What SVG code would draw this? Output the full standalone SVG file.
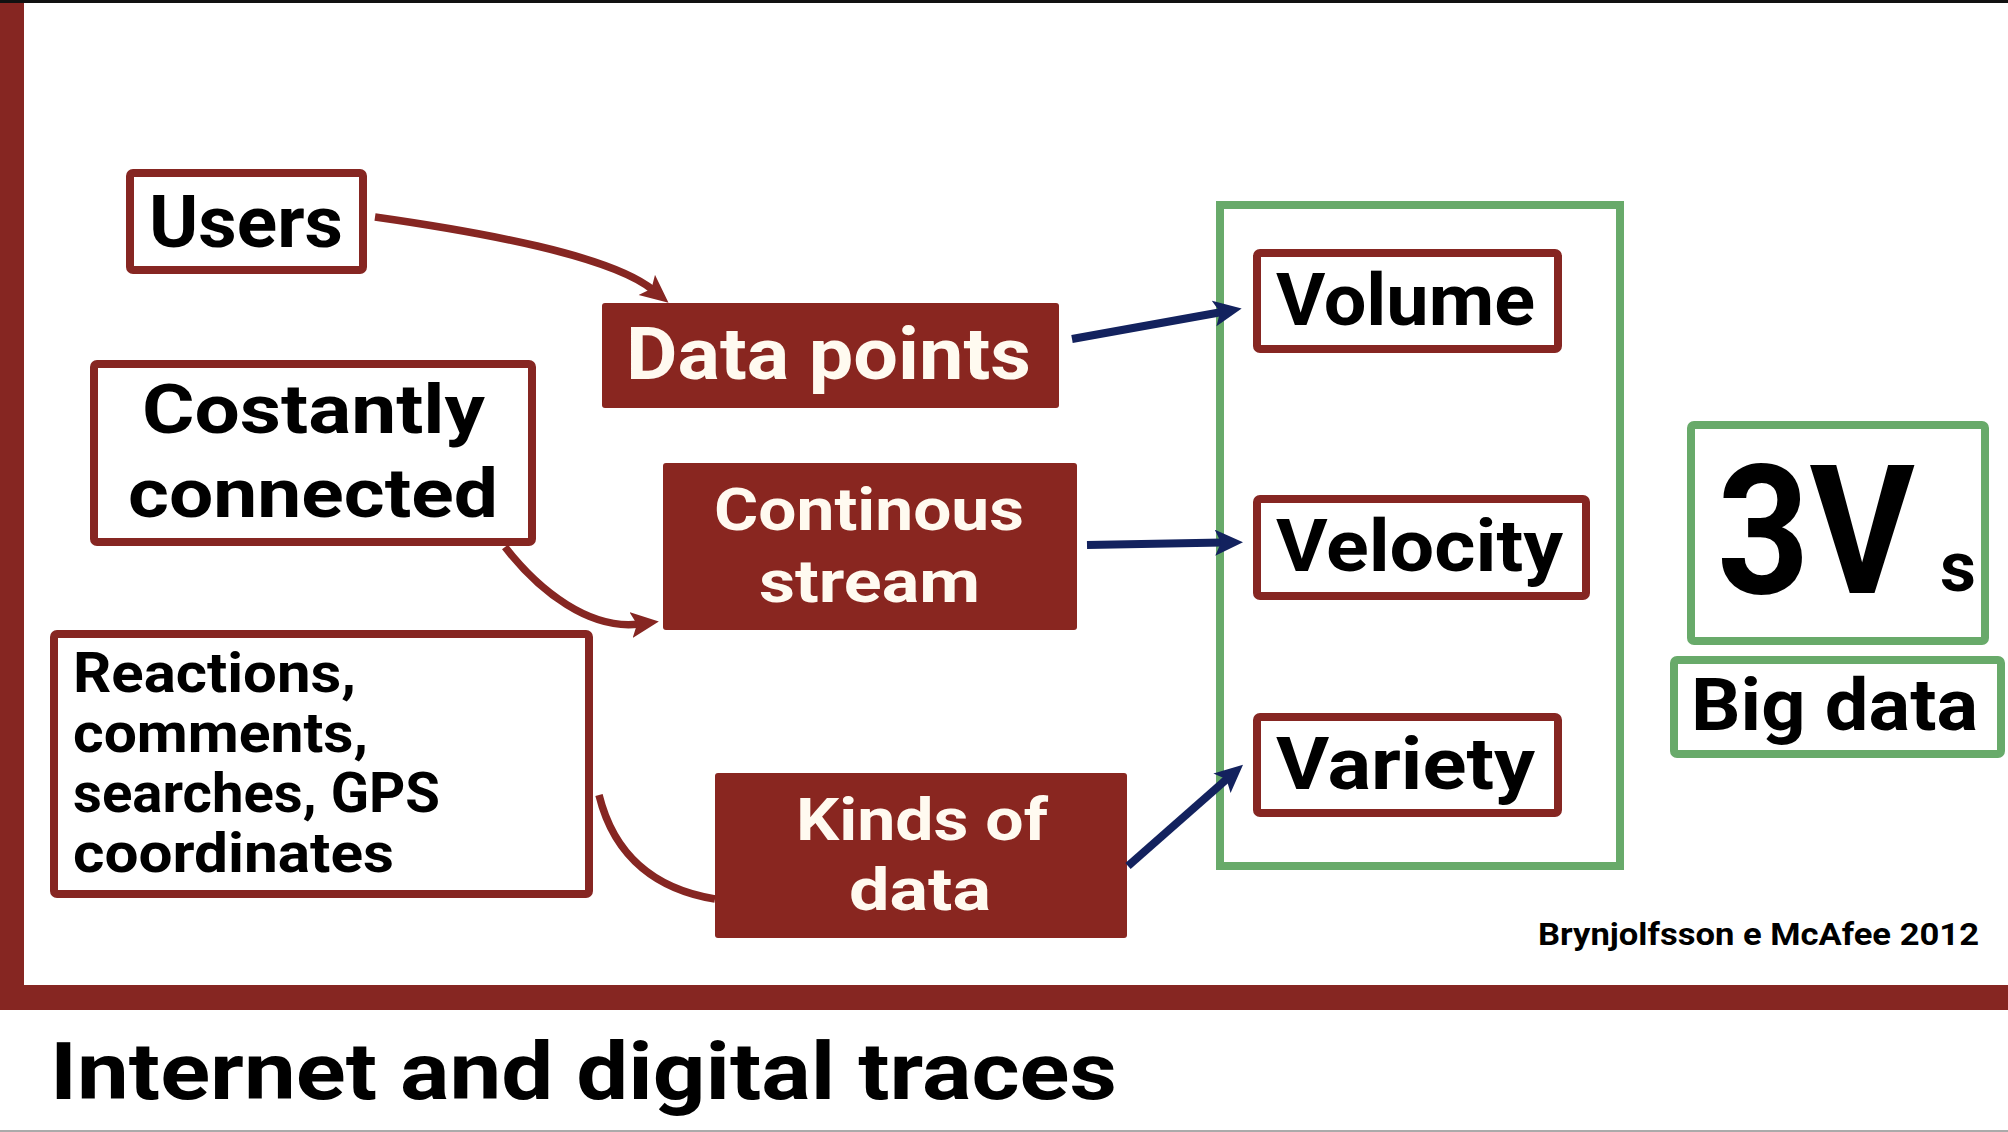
<svg xmlns="http://www.w3.org/2000/svg" width="2008" height="1132" viewBox="0 0 2008 1132">
  <defs>
    <style>
      .txt { font-family: Roboto, "Liberation Sans", "DejaVu Sans", sans-serif; font-weight: 700; }
      .dark { fill: #000000; }
      .light { fill: #fffaf0; }
      .redframe { fill: #ffffff; stroke: #862622; stroke-width: 8; }
      .redfill { fill: #892620; }
      .greenframe { fill: #ffffff; stroke: #68aa6a; stroke-width: 8; }
      .redline { fill: none; stroke: #862622; stroke-width: 7.5; }
      .navyline { fill: none; stroke: #13225e; stroke-width: 8; }
    </style>
    <marker id="headRed" markerUnits="userSpaceOnUse" markerWidth="30" markerHeight="28" refX="8" refY="13" orient="auto">
      <path d="M0,0 L28,13 L0,26 L6,13 z" fill="#862622"/>
    </marker>
    <marker id="headNavy" markerUnits="userSpaceOnUse" markerWidth="30" markerHeight="28" refX="8" refY="13" orient="auto">
      <path d="M0,0 L28,13 L0,26 L6,13 z" fill="#13225e"/>
    </marker>
  </defs>

  <!-- slide background and frame -->
  <rect x="0" y="0" width="2008" height="1132" fill="#ffffff"/>
  <rect x="0" y="0" width="24" height="1010" fill="#862622"/>
  <rect x="0" y="985" width="2008" height="25" fill="#862622"/>
  <rect x="0" y="0" width="2008" height="3" fill="#111111"/>
  <rect x="0" y="1130" width="2008" height="2" fill="#aaaaaa"/>

  <!-- the three Vs container -->
  <g id="vs-group">
    <rect class="greenframe" x="1220" y="205" width="400" height="661"/>
  </g>

  <!-- source nodes -->
  <g id="users">
    <rect class="redframe" x="130" y="173" width="233" height="97" rx="3"/>
    <text class="txt dark" x="149" y="247" font-size="73" textLength="194" lengthAdjust="spacingAndGlyphs">Users</text>
  </g>
  <g id="constantly-connected">
    <rect class="redframe" x="94" y="364" width="438" height="178" rx="3"/>
    <text class="txt dark" x="142" y="433" font-size="68" textLength="343" lengthAdjust="spacingAndGlyphs">Costantly</text>
    <text class="txt dark" x="128" y="517" font-size="68" textLength="370" lengthAdjust="spacingAndGlyphs">connected</text>
  </g>
  <g id="reactions">
    <rect class="redframe" x="54" y="634" width="535" height="260" rx="3"/>
    <text class="txt dark" x="73" y="692" font-size="55" textLength="283" lengthAdjust="spacingAndGlyphs">Reactions,</text>
    <text class="txt dark" x="73" y="752" font-size="55" textLength="295" lengthAdjust="spacingAndGlyphs">comments,</text>
    <text class="txt dark" x="73" y="812" font-size="55" textLength="367" lengthAdjust="spacingAndGlyphs">searches, GPS</text>
    <text class="txt dark" x="73" y="872" font-size="55" textLength="321" lengthAdjust="spacingAndGlyphs">coordinates</text>
  </g>

  <!-- middle nodes -->
  <g id="data-points">
    <rect class="redfill" x="602" y="303" width="457" height="105" rx="3"/>
    <text class="txt light" x="626" y="379" font-size="73" textLength="405" lengthAdjust="spacingAndGlyphs">Data points</text>
  </g>
  <g id="continous-stream">
    <rect class="redfill" x="663" y="463" width="414" height="167" rx="3"/>
    <text class="txt light" x="714" y="530" font-size="59" textLength="310" lengthAdjust="spacingAndGlyphs">Continous</text>
    <text class="txt light" x="759" y="602" font-size="59" textLength="221" lengthAdjust="spacingAndGlyphs">stream</text>
  </g>
  <g id="kinds-of-data">
    <rect class="redfill" x="715" y="773" width="412" height="165" rx="3"/>
    <text class="txt light" x="796" y="840" font-size="60" textLength="252" lengthAdjust="spacingAndGlyphs">Kinds of</text>
    <text class="txt light" x="849" y="910" font-size="60" textLength="142" lengthAdjust="spacingAndGlyphs">data</text>
  </g>

  <!-- V nodes -->
  <g id="volume">
    <rect class="redframe" x="1257" y="253" width="301" height="96" rx="3"/>
    <text class="txt dark" x="1276" y="325" font-size="72" textLength="259" lengthAdjust="spacingAndGlyphs">Volume</text>
  </g>
  <g id="velocity">
    <rect class="redframe" x="1257" y="499" width="329" height="97" rx="3"/>
    <text class="txt dark" x="1276" y="571" font-size="72" textLength="287" lengthAdjust="spacingAndGlyphs">Velocity</text>
  </g>
  <g id="variety">
    <rect class="redframe" x="1257" y="717" width="301" height="96" rx="3"/>
    <text class="txt dark" x="1276" y="789" font-size="72" textLength="259" lengthAdjust="spacingAndGlyphs">Variety</text>
  </g>

  <!-- summary -->
  <g id="three-vs">
    <rect class="greenframe" x="1691" y="425" width="294" height="216" rx="3"/>
    <text class="txt dark" x="1717" y="593" font-size="180"><tspan textLength="198" lengthAdjust="spacingAndGlyphs">3V</tspan><tspan x="1940" y="591" font-size="70">s</tspan></text>
  </g>
  <g id="big-data">
    <rect class="greenframe" x="1674" y="660" width="327" height="94" rx="3"/>
    <text class="txt dark" x="1691" y="730" font-size="72" textLength="287" lengthAdjust="spacingAndGlyphs">Big data</text>
  </g>

  <!-- connectors, drawn over the frames -->
  <g id="connectors">
    <path class="redline" d="M375,217 C480,232 610,255 653,290" marker-end="url(#headRed)"/>
    <path class="redline" d="M505,547 C540,592 590,630 639,624" marker-end="url(#headRed)"/>
    <path class="redline" d="M599,795 C615,860 660,890 715,899"/>
    <path class="navyline" d="M1072,339 L1222,312" marker-end="url(#headNavy)"/>
    <path class="navyline" d="M1087,545 L1223,542.5" marker-end="url(#headNavy)"/>
    <path class="navyline" d="M1128,866 L1228,778" marker-end="url(#headNavy)"/>
  </g>

  <!-- citation and title -->
  <text class="txt dark" x="1538" y="945" font-size="31" textLength="441" lengthAdjust="spacingAndGlyphs">Brynjolfsson e McAfee 2012</text>
  <text class="txt dark" x="50" y="1099" font-size="80" textLength="1067" lengthAdjust="spacingAndGlyphs">Internet and digital traces</text>
</svg>
